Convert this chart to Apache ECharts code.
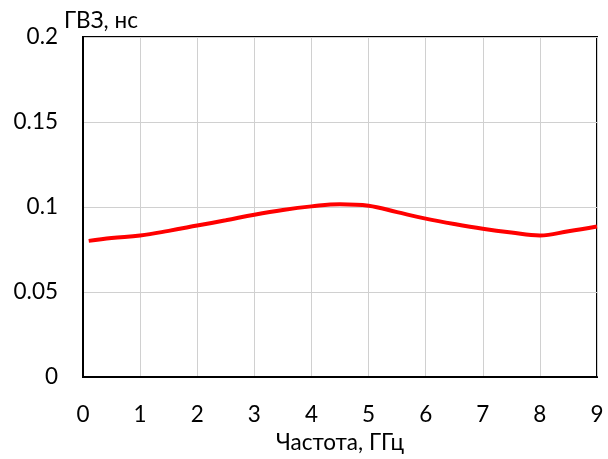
<!DOCTYPE html>
<html><head><meta charset="utf-8">
<script src="https://cdn.jsdelivr.net/npm/echarts@6/dist/echarts.min.js"></script>
<style>html,body{margin:0;padding:0;background:#fff}#c{width:608px;height:459px}</style>
</head><body><div id="c"></div>
<script>
const freq = [0.1, 0.5, 1, 1.5, 2, 2.5, 3, 3.5, 4, 4.5, 5, 5.5, 6, 6.5, 7, 7.5, 8, 8.5, 9];
const gvz  = [0.0801, 0.0818, 0.0833, 0.0860, 0.0891, 0.0922, 0.0955, 0.0983, 0.1004, 0.1017, 0.1008, 0.0970, 0.0932, 0.0900, 0.0872, 0.0850, 0.0833, 0.0858, 0.0886];
const xTicks = [0,1,2,3,4,5,6,7,8,9];
const yTicks = [0, 0.05, 0.1, 0.15, 0.2];
const font = 'Lato, "Liberation Sans", sans-serif';
const fs = 22.5;
const chart = echarts.init(document.getElementById('c'));
chart.setOption({
  animation: false,
  grid: {left: 83, right: 11, top: 37, bottom: 78, show: true, borderColor: '#000', borderWidth: 2, containLabel: false},
  xAxis: {
    type: 'value', min: 0, max: 9, interval: 1,
    name: 'Частота, ГГц', nameLocation: 'middle', nameGap: 52,
    nameTextStyle: {fontFamily: font, fontSize: fs, color: '#000'},
    axisLine: {show: true, lineStyle: {color: '#000', width: 2}},
    axisTick: {show: false},
    axisLabel: {fontFamily: font, fontSize: fs, color: '#000', margin: 26, formatter: v => xTicks.includes(v) ? String(v) : ''},
    splitLine: {show: true, lineStyle: {color: '#d0d0d0', width: 1}}
  },
  yAxis: {
    type: 'value', min: 0, max: 0.2, interval: 0.05,
    name: 'ГВЗ, нс', nameLocation: 'end', nameGap: 5,
    nameTextStyle: {fontFamily: font, fontSize: fs, color: '#000', align: 'left', padding: [0,0,0,-19]},
    axisLine: {show: true, lineStyle: {color: '#000', width: 2}},
    axisTick: {show: false},
    axisLabel: {fontFamily: font, fontSize: fs, color: '#000', margin: 25, formatter: v => { const t = yTicks.find(y => Math.abs(y - v) < 1e-9); return t === undefined ? '' : String(t); }},
    splitLine: {show: true, lineStyle: {color: '#d0d0d0', width: 1}}
  },
  series: [{
    type: 'line', data: freq.map((f, i) => [f, gvz[i]]),
    smooth: 0.4, showSymbol: false,
    lineStyle: {color: '#ff0000', width: 4}
  }]
});
</script></body></html>
